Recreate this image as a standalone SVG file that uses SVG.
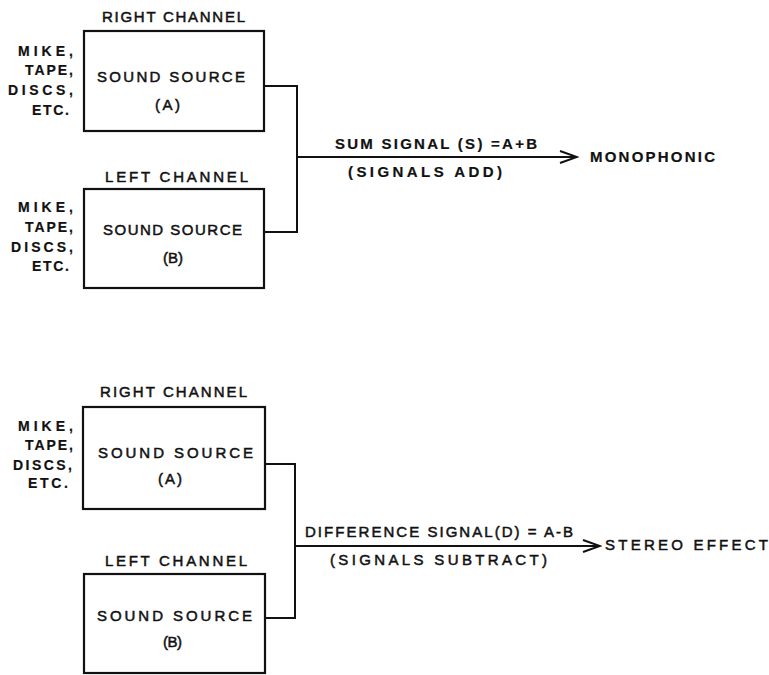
<svg xmlns="http://www.w3.org/2000/svg" width="769" height="675" viewBox="0 0 769 675">
<style>
text{font-family:"Liberation Sans",Arial,sans-serif;fill:#111;stroke:#111;stroke-width:0.5;}
.t{font-size:15px;}
.s{font-size:14px;font-weight:bold;text-anchor:end;stroke-width:0.2;}
.k{font-weight:bold;stroke-width:0.2;}
.b{fill:#fff;stroke:#111;stroke-width:2.2;}
.w{fill:none;stroke:#111;stroke-width:2;}
</style>
<defs>
<marker id="arr" markerWidth="20" markerHeight="14" refX="18" refY="7" orient="auto" markerUnits="userSpaceOnUse">
<path d="M1,1 L18,7 L1,13" fill="none" stroke="#111" stroke-width="2"/>
</marker>
</defs>
<rect width="769" height="675" fill="#fff"/>

<g id="top-right-source">
<text class="t" x="102" y="22" textLength="143" lengthAdjust="spacing">RIGHT CHANNEL</text>
<rect class="b" x="84" y="31" width="180" height="100"/>
<text class="t" x="97" y="82" textLength="148" lengthAdjust="spacing">SOUND SOURCE</text>
<text class="t" x="155" y="110" textLength="25" lengthAdjust="spacing">(A)</text>
<text class="s" x="73" y="56" textLength="55" lengthAdjust="spacing">MIKE,</text>
<text class="s" x="73" y="75" textLength="48" lengthAdjust="spacing">TAPE,</text>
<text class="s" x="73" y="95" textLength="65" lengthAdjust="spacing">DISCS,</text>
<text class="s" x="69" y="115" textLength="37" lengthAdjust="spacing">ETC.</text>
</g>

<g id="top-left-source">
<text class="t" x="105" y="182" textLength="143" lengthAdjust="spacing">LEFT CHANNEL</text>
<rect class="b" x="84" y="189" width="180" height="99"/>
<text class="t" x="103" y="235" textLength="139" lengthAdjust="spacing">SOUND SOURCE</text>
<text class="t" x="163" y="263" textLength="20" lengthAdjust="spacing">(B)</text>
<text class="s" x="73" y="212" textLength="55" lengthAdjust="spacing">MIKE,</text>
<text class="s" x="73" y="232" textLength="48" lengthAdjust="spacing">TAPE,</text>
<text class="s" x="73" y="252" textLength="62" lengthAdjust="spacing">DISCS,</text>
<text class="s" x="69" y="271" textLength="37" lengthAdjust="spacing">ETC.</text>
</g>

<g id="monophonic">
<text class="t k" x="590" y="162" textLength="125" lengthAdjust="spacing">MONOPHONIC</text>
</g>

<g id="bottom-right-source">
<text class="t" x="100" y="397" textLength="147" lengthAdjust="spacing">RIGHT CHANNEL</text>
<rect class="b" x="83" y="407" width="182" height="102"/>
<text class="t" x="98" y="458" textLength="155" lengthAdjust="spacing">SOUND SOURCE</text>
<text class="t" x="158" y="484" textLength="24" lengthAdjust="spacing">(A)</text>
<text class="s" x="73" y="431" textLength="55" lengthAdjust="spacing">MIKE,</text>
<text class="s" x="73" y="450" textLength="48" lengthAdjust="spacing">TAPE,</text>
<text class="s" x="72" y="470" textLength="59" lengthAdjust="spacing">DISCS,</text>
<text class="s" x="68" y="488" textLength="40" lengthAdjust="spacing">ETC.</text>
</g>

<g id="bottom-left-source">
<text class="t" x="105" y="566" textLength="142" lengthAdjust="spacing">LEFT CHANNEL</text>
<rect class="b" x="84" y="574" width="181" height="99"/>
<text class="t" x="97" y="621" textLength="155" lengthAdjust="spacing">SOUND SOURCE</text>
<text class="t" x="163" y="647" textLength="19" lengthAdjust="spacing">(B)</text>
</g>

<g id="stereo">
<text class="t" x="605" y="550" textLength="163" lengthAdjust="spacing">STEREO EFFECT</text>
</g>

<g id="connectors">
<polyline class="w" points="264,86 297,86 297,232 264,232"/>
<line class="w" x1="297" y1="157" x2="577" y2="157" marker-end="url(#arr)"/>
<text class="t k" x="335" y="149" textLength="202" lengthAdjust="spacing">SUM SIGNAL (S) =A+B</text>
<text class="t k" x="348" y="177" textLength="154" lengthAdjust="spacing">(SIGNALS ADD)</text>
<polyline class="w" points="265,464 295,464 295,618 265,618"/>
<line class="w" x1="295" y1="546" x2="600" y2="546" marker-end="url(#arr)"/>
<text class="t" x="305" y="537" textLength="268" lengthAdjust="spacing">DIFFERENCE SIGNAL(D) = A-B</text>
<text class="t" x="330" y="565" textLength="217" lengthAdjust="spacing">(SIGNALS SUBTRACT)</text>
</g>
</svg>
